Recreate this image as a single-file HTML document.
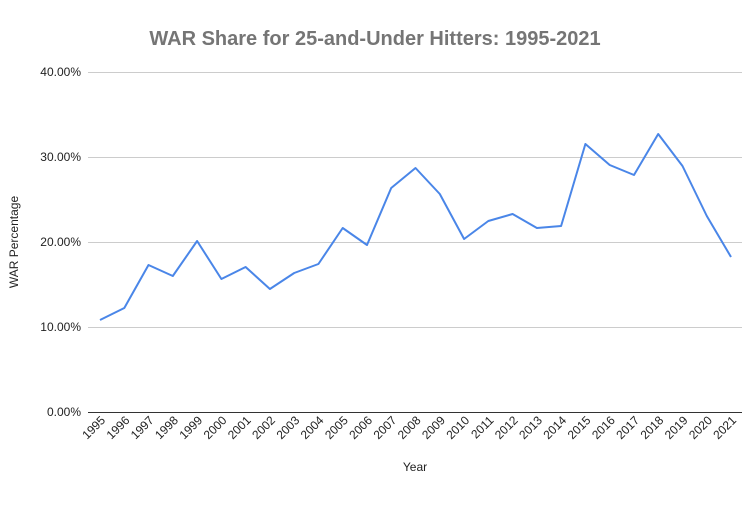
<!DOCTYPE html><html><head><style>body{margin:0;background:#fff}</style></head><body>
<svg width="750" height="500" xmlns="http://www.w3.org/2000/svg" font-family="Liberation Sans, Arial, sans-serif">
<rect width="750" height="500" fill="#fff"/>
<text x="375" y="45" text-anchor="middle" font-size="20" font-weight="bold" fill="#757575">WAR Share for 25-and-Under Hitters: 1995-2021</text>
<g stroke="#ccc" stroke-width="1">
<line x1="88" y1="72.5" x2="742" y2="72.5"/><line x1="88" y1="157.5" x2="742" y2="157.5"/><line x1="88" y1="242.5" x2="742" y2="242.5"/><line x1="88" y1="327.5" x2="742" y2="327.5"/>
</g>
<line x1="88" y1="412.5" x2="742" y2="412.5" stroke="#333" stroke-width="1"/>
<g font-size="12" fill="#222" text-anchor="end">
<text x="81" y="76">40.00%</text><text x="81" y="161">30.00%</text><text x="81" y="246">20.00%</text><text x="81" y="331">10.00%</text><text x="81" y="416">0.00%</text>
</g>
<text x="18" y="242" font-size="12" fill="#222" text-anchor="middle" transform="rotate(-90 18 242)">WAR Percentage</text>
<text x="415" y="471" font-size="12" fill="#222" text-anchor="middle">Year</text>
<g font-size="12" fill="#222" text-anchor="end">
<text transform="translate(106,421) rotate(-45)">1995</text>
<text transform="translate(130.3,421) rotate(-45)">1996</text>
<text transform="translate(154.5,421) rotate(-45)">1997</text>
<text transform="translate(178.8,421) rotate(-45)">1998</text>
<text transform="translate(203.1,421) rotate(-45)">1999</text>
<text transform="translate(227.4,421) rotate(-45)">2000</text>
<text transform="translate(251.6,421) rotate(-45)">2001</text>
<text transform="translate(275.9,421) rotate(-45)">2002</text>
<text transform="translate(300.2,421) rotate(-45)">2003</text>
<text transform="translate(324.4,421) rotate(-45)">2004</text>
<text transform="translate(348.7,421) rotate(-45)">2005</text>
<text transform="translate(373,421) rotate(-45)">2006</text>
<text transform="translate(397.2,421) rotate(-45)">2007</text>
<text transform="translate(421.5,421) rotate(-45)">2008</text>
<text transform="translate(445.8,421) rotate(-45)">2009</text>
<text transform="translate(470.1,421) rotate(-45)">2010</text>
<text transform="translate(494.3,421) rotate(-45)">2011</text>
<text transform="translate(518.6,421) rotate(-45)">2012</text>
<text transform="translate(542.9,421) rotate(-45)">2013</text>
<text transform="translate(567.1,421) rotate(-45)">2014</text>
<text transform="translate(591.4,421) rotate(-45)">2015</text>
<text transform="translate(615.7,421) rotate(-45)">2016</text>
<text transform="translate(640,421) rotate(-45)">2017</text>
<text transform="translate(664.2,421) rotate(-45)">2018</text>
<text transform="translate(688.5,421) rotate(-45)">2019</text>
<text transform="translate(712.8,421) rotate(-45)">2020</text>
<text transform="translate(737,421) rotate(-45)">2021</text>
</g>
<polyline fill="none" stroke="#4a86e8" stroke-width="2" stroke-linejoin="round" points="100,320 124.3,308 148.5,265 172.8,276 197.1,241 221.4,279 245.6,267 269.9,289 294.2,273 318.4,264 342.7,228 367,245 391.2,188 415.5,168 439.8,194 464.1,239 488.3,221 512.6,214 536.9,228 561.1,226 585.4,144 609.7,165 634,175 658.2,134 682.5,166 706.8,216 731,257"/>
</svg></body></html>
